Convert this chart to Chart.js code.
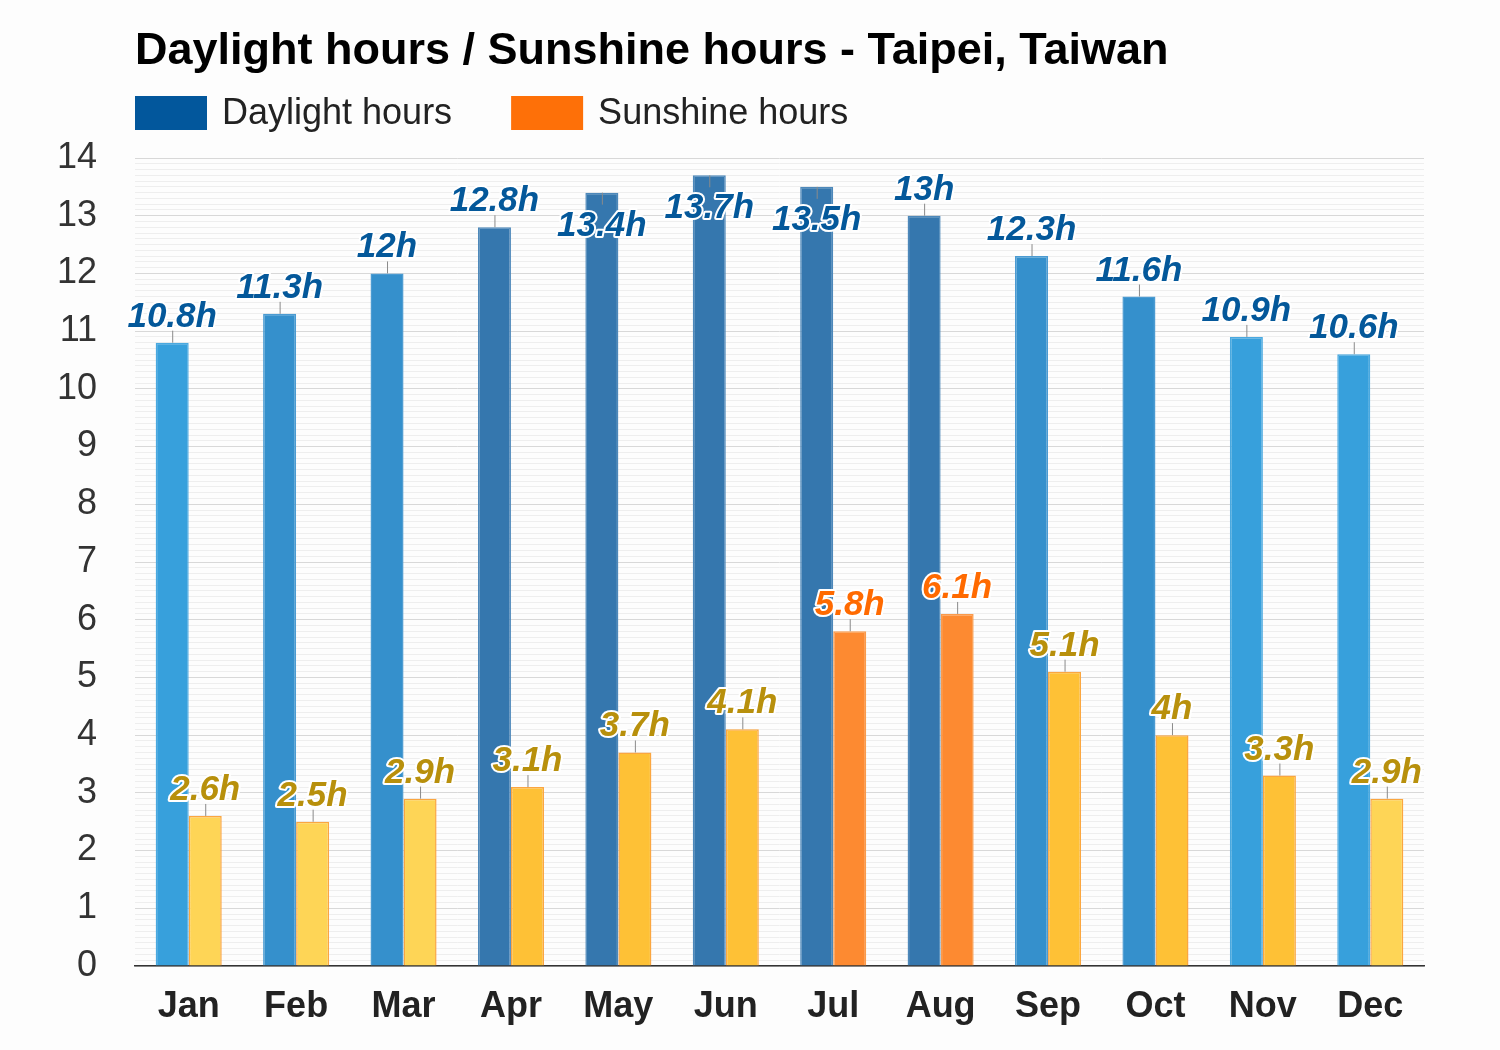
<!DOCTYPE html>
<html>
<head>
<meta charset="utf-8">
<script src="https://cdn.jsdelivr.net/npm/chart.js@4.4.1/dist/chart.umd.min.js"></script>
<style>
  html, body { margin: 0; padding: 0; background: #fdfdfd; }
  #wrap { width: 1500px; height: 1050px; }
</style>
</head>
<body>
<div id="wrap"><canvas id="myChart" width="1500" height="1050"></canvas></div>
<script>
const chartTitle = 'Daylight hours / Sunshine hours - Taipei, Taiwan';
const months = ['Jan', 'Feb', 'Mar', 'Apr', 'May', 'Jun', 'Jul', 'Aug', 'Sep', 'Oct', 'Nov', 'Dec'];
const daylightHours = [10.8, 11.3, 12, 12.8, 13.4, 13.7, 13.5, 13, 12.3, 11.6, 10.9, 10.6];
const sunshineHours = [2.6, 2.5, 2.9, 3.1, 3.7, 4.1, 5.8, 6.1, 5.1, 4, 3.3, 2.9];
const yTicks = [0, 1, 2, 3, 4, 5, 6, 7, 8, 9, 10, 11, 12, 13, 14];

const FONT = 'Arial, "Liberation Sans", Helvetica, sans-serif';

// colour shades depend on the value, like the original
function dayFill(v) { return v < 11 ? '#37a0dc' : (v < 12.5 ? '#3590cc' : '#3577ae'); }
function dayBorder(v) { return v < 11 ? '#4aa9e0' : (v < 12.5 ? '#4b9bd2' : '#4d88ba'); }
function sunFill(v) { return v < 3 ? '#fed556' : (v < 5.5 ? '#fec136' : '#fd8a31'); }
function sunBorder(v) { return v < 5.5 ? '#fba640' : '#fb9a4a'; }
function dayText() { return '#04589a'; }
function sunText(v) { return v < 5.5 ? '#b8900c' : '#ff6a00'; }

const bgPlugin = {
  id: 'bg',
  beforeDraw(chart) {
    const ctx = chart.ctx;
    ctx.save();
    ctx.fillStyle = '#fdfdfd';
    ctx.fillRect(0, 0, chart.width, chart.height);
    ctx.restore();
  }
};

// title + legend, drawn by hand so they line up with the plot's left edge
const headerPlugin = {
  id: 'header',
  afterDraw(chart) {
    const ctx = chart.ctx;
    const left = chart.chartArea.left;
    ctx.save();
    ctx.fillStyle = '#000';
    ctx.font = 'bold 45px ' + FONT;
    ctx.textBaseline = 'alphabetic';
    ctx.textAlign = 'left';
    ctx.fillText(chartTitle, left, 64);

    const items = [
      { text: chart.data.datasets[0].label, color: '#02579c' },
      { text: chart.data.datasets[1].label, color: '#fe7008' }
    ];
    ctx.font = '36px ' + FONT;
    let x = left;
    items.forEach(it => {
      ctx.fillStyle = it.color;
      ctx.fillRect(x, 96, 72, 34);
      ctx.fillStyle = '#222';
      ctx.fillText(it.text, x + 87, 124);
      x += 87 + ctx.measureText(it.text).width + 59;
    });
    ctx.restore();
  }
};

// value labels with a small leader line
const valueLabels = {
  id: 'valueLabels',
  afterDatasetsDraw(chart) {
    const ctx = chart.ctx;
    const top = chart.chartArea.top;
    ctx.save();
    ctx.font = 'italic bold 35px ' + FONT;
    ctx.textAlign = 'center';
    ctx.textBaseline = 'alphabetic';
    ctx.lineJoin = 'round';
    chart.data.datasets.forEach((ds, di) => {
      const meta = chart.getDatasetMeta(di);
      meta.data.forEach((bar, i) => {
        const v = ds.data[i];
        const txt = v + 'h';
        let base = bar.y - 16;
        let lineEnd = bar.y - 12;
        if (base - 24 < top) {
          base = bar.y + 43;
          lineEnd = bar.y + 12;
        }
        ctx.strokeStyle = '#8a8a8a';
        ctx.lineWidth = 1;
        ctx.beginPath();
        ctx.moveTo(bar.x + 0.5, bar.y);
        ctx.lineTo(bar.x + 0.5, lineEnd);
        ctx.stroke();

        ctx.strokeStyle = '#ffffff';
        ctx.lineWidth = 4;
        ctx.strokeText(txt, bar.x, base);
        ctx.fillStyle = di === 0 ? dayText(v) : sunText(v);
        ctx.fillText(txt, bar.x, base);
      });
    });
    ctx.restore();
  }
};

const ctx = document.getElementById('myChart');
new Chart(ctx, {
  type: 'bar',
  data: {
    labels: months,
    datasets: [
      {
        label: 'Daylight hours',
        data: daylightHours,
        backgroundColor: daylightHours.map(dayFill),
        borderColor: daylightHours.map(dayBorder),
        borderWidth: 1.5,
        borderSkipped: 'bottom'
      },
      {
        label: 'Sunshine hours',
        data: sunshineHours,
        backgroundColor: sunshineHours.map(sunFill),
        borderColor: sunshineHours.map(sunBorder),
        borderWidth: 1.5,
        borderSkipped: 'bottom'
      }
    ]
  },
  options: {
    responsive: false,
    animation: false,
    devicePixelRatio: 1,
    layout: { padding: { left: 0, right: 76, top: 158, bottom: 0 } },
    categoryPercentage: 0.615,
    barPercentage: 1,
    plugins: {
      legend: { display: false },
      title: { display: false },
      tooltip: { enabled: false }
    },
    scales: {
      x: {
        grid: { display: false },
        border: { display: true, color: '#333', width: 1.5 },
        afterFit: s => { s.height = 84; },
        ticks: {
          color: '#222',
          font: { family: FONT, size: 36, weight: 'bold' },
          padding: 11
        }
      },
      y: {
        min: yTicks[0],
        max: yTicks[yTicks.length - 1],
        border: { display: false },
        afterFit: s => { s.width = 135; },
        grid: {
          drawTicks: false,
          color: c => Number.isInteger(Math.round(c.tick.value * 10) / 10) ? '#d8d8d8' : '#eeeeee',
          lineWidth: 1
        },
        ticks: {
          stepSize: 0.1,
          autoSkip: false,
          maxTicksLimit: 1000,
          padding: 38,
          color: '#333',
          font: { family: FONT, size: 36 },
          callback: v => yTicks.includes(Math.round(v * 10) / 10) ? String(Math.round(v)) : ''
        }
      }
    }
  },
  plugins: [bgPlugin, valueLabels, headerPlugin]
});
</script>
</body>
</html>
